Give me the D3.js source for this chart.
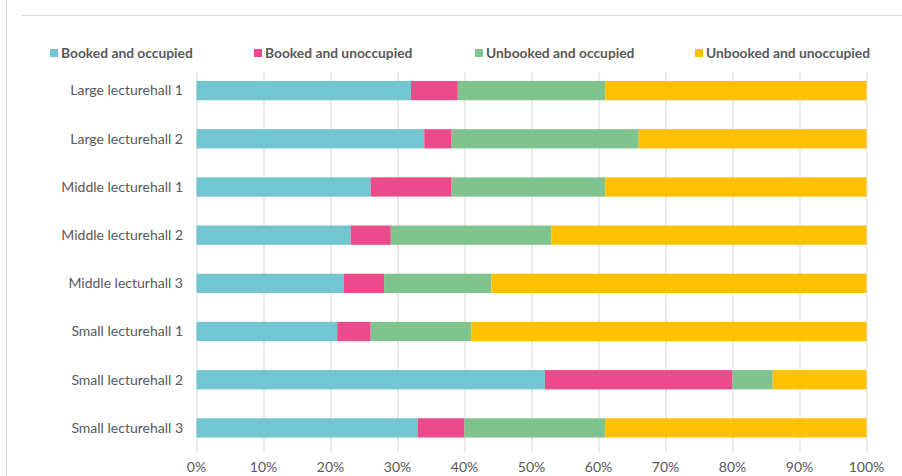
<html>
<head>
<script src="https://d3js.org/d3.v7.min.js"></script>
<style>
  body { margin: 0; background: white; }
  .gridlines line { stroke: #d9d9d9; }
  .gridlines .domain { stroke: none; }
  text { font-family: Lato, "Open Sans", sans-serif; fill: #595959; }
</style>
</head>
<body>
<svg id="chart" width="902" height="476"></svg>
<script>
// lecture halls, top to bottom
const halls = ["Large lecturehall 1", "Large lecturehall 2", "Middle lecturehall 1", "Middle lecturehall 2",
               "Middle lecturhall 3", "Small lecturehall 1", "Small lecturehall 2", "Small lecturehall 3"];
const seriesNames = ["Booked and occupied", "Booked and unoccupied", "Unbooked and occupied", "Unbooked and unoccupied"];
// shares in percent, one array per series
const bookedOccupied     = [32, 34, 26, 23, 22, 21, 52, 33];
const bookedUnoccupied   = [7, 4, 12, 6, 6, 5, 28, 7];
const unbookedOccupied   = [22, 28, 23, 24, 16, 15, 6, 21];
const unbookedUnoccupied = [39, 34, 39, 47, 56, 59, 14, 39];
const tickValues = [0, 10, 20, 30, 40, 50, 60, 70, 80, 90, 100];
const colors = ["#72c6d2", "#ec4b8b", "#7fc38f", "#ffc000"];

const rows = halls.map((h, i) => ({
    hall: h,
    "Booked and occupied": bookedOccupied[i],
    "Booked and unoccupied": bookedUnoccupied[i],
    "Unbooked and occupied": unbookedOccupied[i],
    "Unbooked and unoccupied": unbookedUnoccupied[i]
}));

const svg = d3.select("svg#chart");

// frame lines left over from the screenshot crop
svg.append("line").attr("x1", 6.5).attr("x2", 6.5).attr("y1", 0).attr("y2", 476)
   .attr("stroke", "#d9d9d9");
svg.append("line").attr("x1", 22).attr("x2", 902).attr("y1", 15.5).attr("y2", 15.5)
   .attr("stroke", "#d9d9d9");

const xScale = d3.scaleLinear().domain([0, 100]).range([196.5, 866.5]);
const yScale = d3.scaleBand().domain(halls).range([66.5, 452])
                 .paddingInner(0.6).paddingOuter(0.3);
const colorScale = d3.scaleOrdinal(seriesNames, colors);

// vertical gridlines
svg.append("g").attr("class", "gridlines")
   .attr("transform", "translate(0,452)")
   .call(d3.axisBottom(xScale).tickValues(tickValues).tickSize(-380).tickFormat(""));

const stacked = d3.stack().keys(seriesNames)(rows);

svg.append("g").selectAll("g").data(stacked)
   .join("g")
   .attr("fill", d => colorScale(d.key))
   .selectAll("rect").data(d => d)
   .join("rect")
   .attr("x", d => xScale(d[0]))
   .attr("width", d => xScale(d[1]) - xScale(d[0]))
   .attr("y", d => yScale(d.data.hall))
   .attr("height", yScale.bandwidth());

// category labels
svg.append("g").selectAll("text").data(halls)
   .join("text")
   .attr("x", 183)
   .attr("y", d => yScale(d) + yScale.bandwidth() / 2)
   .attr("dy", "0.35em")
   .attr("text-anchor", "end")
   .attr("font-size", 14)
   .text(d => d);

// percent tick labels
svg.append("g").selectAll("text").data(tickValues)
   .join("text")
   .attr("x", d => xScale(d))
   .attr("y", 467)
   .attr("dy", "0.35em")
   .attr("text-anchor", "middle")
   .attr("font-size", 14)
   .text(d => d + "%");

// legend
const legendX = [50, 254, 475, 695];
const legend = svg.append("g").selectAll("g").data(seriesNames)
   .join("g")
   .attr("transform", (d, i) => `translate(${legendX[i]},53)`);
legend.append("rect").attr("x", 0).attr("y", -4).attr("width", 8).attr("height", 8)
      .attr("fill", d => colorScale(d));
legend.append("text").attr("x", 11).attr("dy", "0.35em")
      .attr("font-size", 13.8).attr("font-weight", "bold")
      .text(d => d);
</script>
</body>
</html>
